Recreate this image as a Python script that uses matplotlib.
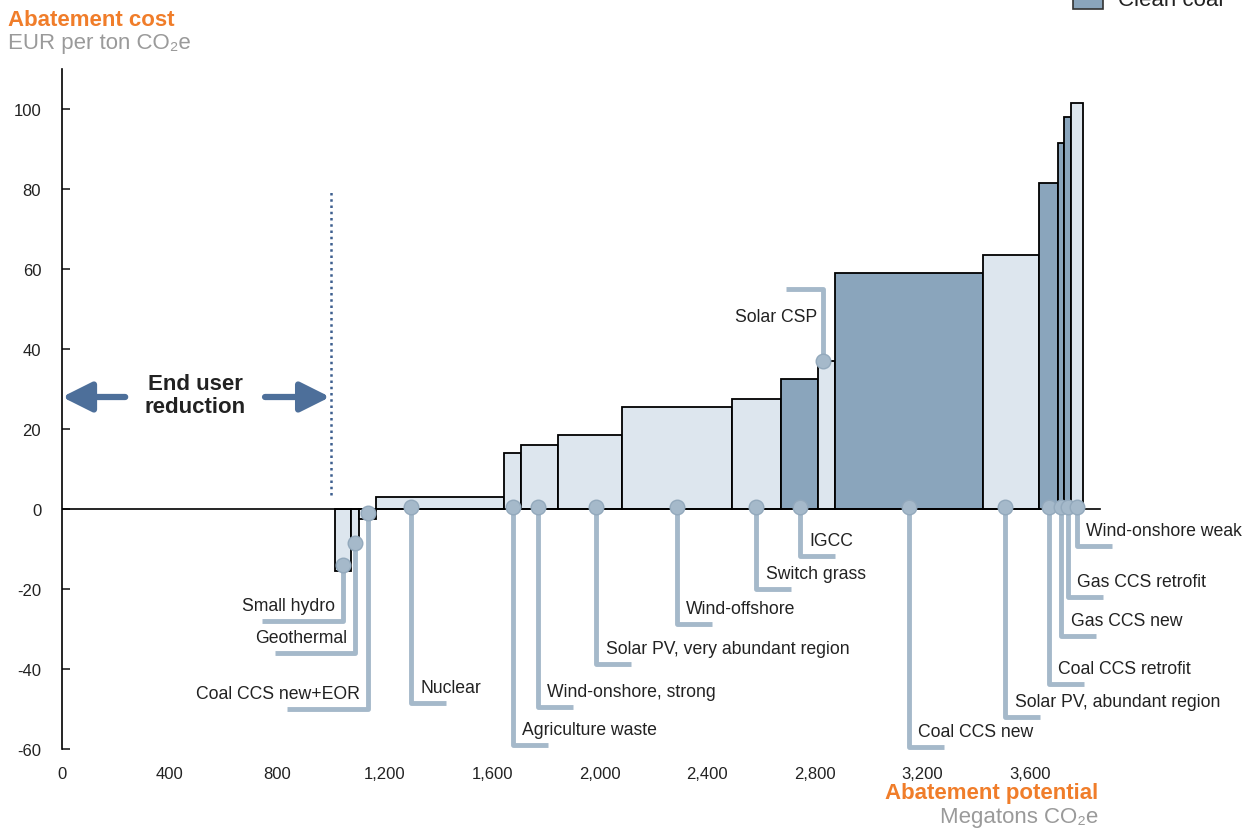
import matplotlib
matplotlib.use('Agg')
import matplotlib.pyplot as plt
from matplotlib.patches import Rectangle

plt.rcParams['font.family'] = ['Liberation Sans', 'DejaVu Sans']

# abatement levers, left to right on the cost curve
levers = ['Small hydro', 'Geothermal', 'Coal CCS new+EOR', 'Nuclear', 'Agriculture waste',
          'Wind-onshore, strong', 'Solar PV, very abundant region', 'Wind-offshore',
          'Switch grass', 'IGCC', 'Solar CSP', 'Coal CCS new', 'Solar PV, abundant region',
          'Coal CCS retrofit', 'Gas CCS new', 'Gas CCS retrofit', 'Wind-onshore weak']
potential = [60, 31, 63, 476, 62, 139, 235, 409, 184, 139, 62, 549, 211, 68, 25, 24, 44]   # Mt CO2e
cost = [-15.5, -10, -2.5, 3, 14, 16, 18.5, 25.5, 27.5, 32.5, 37, 59, 63.5, 81.5, 91.5, 98, 101.5]  # EUR/t
clean_coal = [0, 0, 0, 0, 0, 0, 0, 0, 0, 1, 0, 1, 0, 1, 1, 1, 0]
end_user = 1000
curve_start = 1015

x_ticks = [0, 400, 800, 1200, 1600, 2000, 2400, 2800, 3200, 3600]
y_ticks = [-60, -40, -20, 0, 20, 40, 60, 80, 100]

# label leader layout
label_y = [-28, -36, -50, -48.5, -59, -49.5, -38.7, -28.7, -20, -11.7, 55, -59.5, -52, -43.7, -31.7, -22, -9.2]
label_side = ['L', 'L', 'L', 'R', 'R', 'R', 'R', 'R', 'R', 'R', 'U', 'R', 'R', 'R', 'R', 'R', 'R']
pin_frac = [0.5, 0.5, 0.5, 0.27, 0.5, 0.45, 0.6, 0.5, 0.5, 0.5, 0.3, 0.5, 0.4, 0.5, 0.5, 0.5, 0.5]

orange = '#f07d2a'
grey = '#9a9a9a'
dark = '#8aa5bc'
light = '#dde6ee'
pin = '#a5b9ca'

W, H = 1256, 829
fig = plt.figure(figsize=(W / 100, H / 100), dpi=100)
ppx = 0.2689  # pixels per Mt
ax = fig.add_axes([62 / W, 1 - 750 / H, 3900 * ppx / W, 680 / H])
ax.set_xlim(0, 3900)
ax.set_ylim(-60, 110)

lefts = []
x = curve_start
for w in potential:
    lefts.append(x)
    x += w

ax.bar(lefts, cost, width=potential, align='edge',
       color=[dark if c else light for c in clean_coal],
       edgecolor='black', linewidth=1.3, zorder=2)
ax.plot([0, 3860], [0, 0], color='black', lw=1.2, zorder=3)

# leaders and labels
for i, name in enumerate(levers):
    px = lefts[i] + potential[i] * pin_frac[i]
    h = cost[i]
    if h < 0:
        py = min(0, h + 1.5)
    elif label_side[i] == 'U':
        py = h
    else:
        py = 0.5
    ly = label_y[i]
    if label_side[i] == 'L':
        ax.plot([px, px, px - 300], [py, ly, ly], color=pin, lw=3.5, zorder=4,
                solid_capstyle='butt', clip_on=False)
        ax.text(px - 30, ly + 3.8, name, ha='right', va='center', fontsize=12.7, color='#222222')
    elif label_side[i] == 'U':
        ax.plot([px, px, px - 140], [py, ly, ly], color=pin, lw=3.5, zorder=4,
                solid_capstyle='butt', clip_on=False)
        ax.text(px - 22, ly - 7, name, ha='right', va='center', fontsize=12.7, color='#222222')
    else:
        ax.plot([px, px, px + 130], [py, ly, ly], color=pin, lw=3.5, zorder=4,
                solid_capstyle='butt', clip_on=False)
        ax.text(px + 35, ly + 3.8, name, ha='left', va='center', fontsize=12.7, color='#222222')
    ax.plot(px, py, 'o', ms=10.5, color=pin, mec='#93a9bc', zorder=5, clip_on=False)

# end user reduction
ax.plot([end_user, end_user], [3.5, 80], color='#3d5f8f', lw=1.8, ls=(0, (1, 1.5)), zorder=3)
arrow = dict(arrowstyle='-|>,head_width=0.45,head_length=0.9', lw=4.5, color='#4d6f9a',
             mutation_scale=20, shrinkA=0, shrinkB=0)
ax.annotate('', xy=(0, 28), xytext=(235, 28), arrowprops=arrow)
ax.annotate('', xy=(997, 28), xytext=(755, 28), arrowprops=arrow)
ax.text(495, 28.5, 'End user\nreduction', ha='center', va='center', fontsize=16,
        fontweight='bold', color='#222222', linespacing=1.15)

# axes styling
for s in ['top', 'right', 'bottom']:
    ax.spines[s].set_visible(False)
ax.spines['left'].set_linewidth(1.2)
ax.spines['left'].set_bounds(-60, 110)
ax.set_yticks(y_ticks)
ax.set_yticklabels([str(v) for v in y_ticks])
ax.tick_params(axis='y', direction='in', length=6, width=1.2, pad=15, labelsize=12, colors='#222222')
ax.set_xticks(x_ticks)
ax.set_xticklabels([f'{v:,}' for v in x_ticks])
ax.tick_params(axis='x', length=0, pad=12, labelsize=12, colors='#222222')

# titles
fig.text(8 / W, 1 - 20 / H, 'Abatement cost', ha='left', va='center', fontsize=16,
         fontweight='bold', color=orange)
fig.text(8 / W, 1 - 43 / H, 'EUR per ton CO₂e', ha='left', va='center', fontsize=16, color=grey)
fig.text(1098 / W, 1 - 794 / H, 'Abatement potential', ha='right', va='center', fontsize=16,
         fontweight='bold', color=orange)
fig.text(1098 / W, 1 - 818 / H, 'Megatons CO₂e', ha='right', va='center', fontsize=16, color=grey)

# legend (partly cut by the top edge)
fig.patches.append(Rectangle((1073 / W, 1 - 10 / H), 30 / W, 20 / H, transform=fig.transFigure,
                             facecolor=dark, edgecolor='#333333', lw=1.2))
fig.text(1118 / W, 1 - 6 / H, 'Clean coal', ha='left', va='baseline', fontsize=16, color='#222222')

fig.savefig('out.png', dpi=100)
